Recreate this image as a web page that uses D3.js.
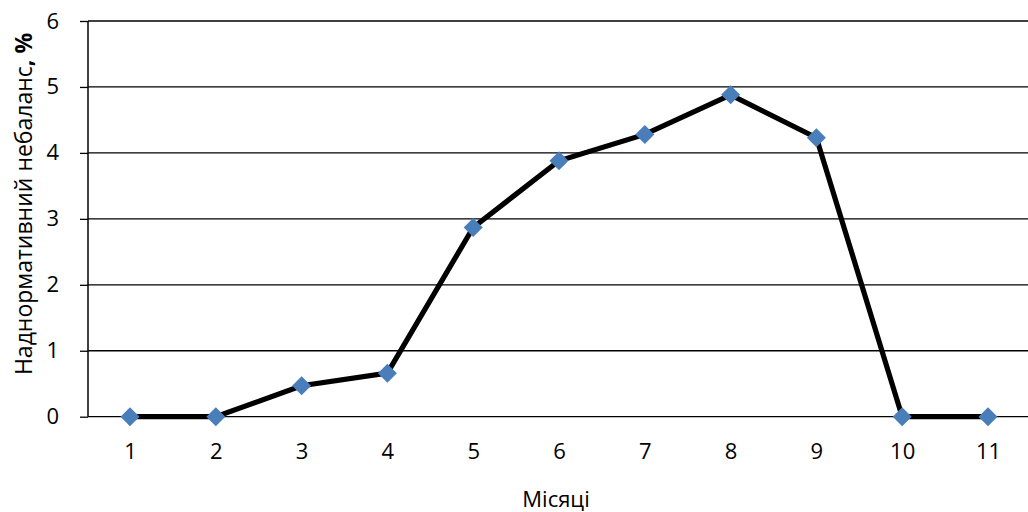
<!DOCTYPE html>
<html><head><meta charset="utf-8">
<script src="https://cdn.jsdelivr.net/npm/d3@7"></script>
<style>body{margin:0;background:#fff}svg{display:block}text{font-family:"Open Sans","Noto Sans",sans-serif;fill:#000}</style>
</head><body>
<svg id="c" width="1028" height="512"></svg>
<script>
const months = ["1","2","3","4","5","6","7","8","9","10","11"];
const imbalance = [0, 0, 0.47, 0.66, 2.87, 3.88, 4.28, 4.88, 4.23, 0, 0];
const yTicks = [0,1,2,3,4,5,6];
const xTitle = "Місяці";
const yTitleMain = "Наднормативний небаланс";
const yTitleUnit = ", %";

const svg = d3.select("#c");
const x = d3.scalePoint().domain(months).range([130, 988]);
const y = d3.scaleLinear().domain([0, 6]).range([416.7, 21]);
const left = 88, right = 1028;

// gridlines
svg.append("g").selectAll("line").data(yTicks).join("line")
  .attr("x1", left).attr("x2", right)
  .attr("y1", d => y(d)).attr("y2", d => y(d))
  .attr("stroke", "#000").attr("stroke-width", 1.3);

// y axis
const ya = svg.append("g").attr("transform", `translate(${left},0)`)
  .call(d3.axisLeft(y).tickValues(yTicks).tickSize(8).tickPadding(21).tickFormat(d3.format("d")));
ya.select(".domain").attr("stroke", "#000").attr("stroke-width", 1.5).attr("d", `M-0,${y(6)}V${y(0)}`);
ya.selectAll(".tick line").attr("stroke", "#000").attr("stroke-width", 1.3);
ya.selectAll("text").attr("font-size", 22).attr("font-family", "Open Sans");

// x axis labels
const xa = svg.append("g").attr("transform", `translate(0,${y(0)})`)
  .call(d3.axisBottom(x).tickSize(0).tickPadding(27));
xa.select(".domain").remove();
xa.selectAll("text").attr("font-size", 22).attr("font-family", "Open Sans");

// line
svg.append("path").datum(imbalance)
  .attr("fill", "none").attr("stroke", "#000").attr("stroke-width", 5.2).attr("stroke-linejoin", "miter")
  .attr("d", d3.line().x((d, i) => x(months[i])).y(d => y(d)));

// markers
const s = 9.5;
svg.append("g").selectAll("path").data(imbalance).join("path")
  .attr("transform", (d, i) => `translate(${x(months[i])},${y(d)})`)
  .attr("d", `M0,${-s}L${s},0L0,${s}L${-s},0Z`)
  .attr("fill", "#4a7ebb");

// titles
svg.append("text").attr("x", 556).attr("y", 507).attr("text-anchor", "middle")
  .attr("font-size", 22).text(xTitle);
const yt = svg.append("text").attr("transform", "translate(32,204) rotate(-90)").attr("text-anchor", "middle")
  .attr("font-size", 23);
yt.append("tspan").text(yTitleMain);
yt.append("tspan").attr("font-weight", "bold").text(yTitleUnit);
</script>
</body></html>
